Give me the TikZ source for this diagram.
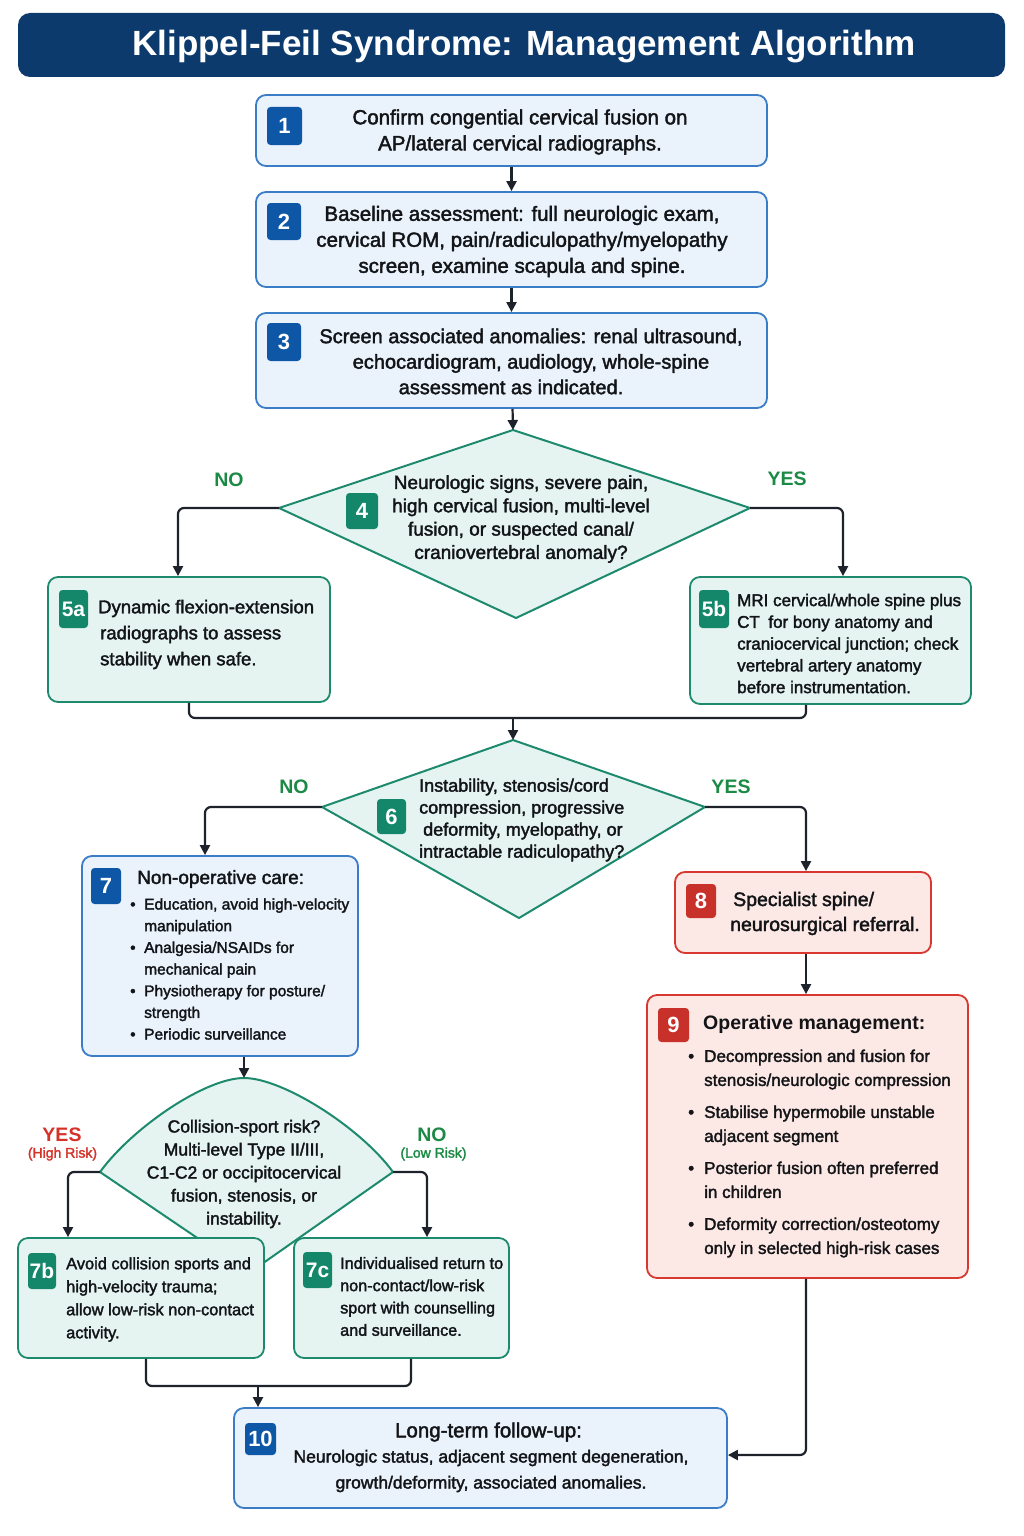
\documentclass[tikz,border=0pt]{standalone}
\usepackage{fontspec}
\setmainfont{Liberation Sans}
\newfontfamily\medf{Liberation Sans}[FakeBold=2]
\usetikzlibrary{arrows.meta}
\definecolor{navy}{HTML}{0C3A6C}
\definecolor{bluefill}{HTML}{EAF2FB}
\definecolor{blueline}{HTML}{3A7CC6}
\definecolor{bluebadge}{HTML}{0E56A6}
\definecolor{tealfill}{HTML}{E5F4F0}
\definecolor{tealline}{HTML}{1D8A6E}
\definecolor{tealbadge}{HTML}{14866A}
\definecolor{redfill}{HTML}{FCE8E5}
\definecolor{redline}{HTML}{D8382F}
\definecolor{redbadge}{HTML}{C8302A}
\definecolor{greenlab}{HTML}{1B8A45}
\definecolor{redlab}{HTML}{D5322A}
\definecolor{arrowc}{HTML}{1E232B}
\definecolor{textc}{HTML}{121417}
\newcommand\myfs[2]{\fontsize{#1}{#2}\selectfont}
\newcommand\bul[1]{\makebox[#1][l]{\textbullet}}
\begin{document}
\begin{tikzpicture}[x=1pt,y=-1pt,
  box/.style={draw, line width=1.8pt, rounded corners=10pt, inner sep=0pt},
  bluebox/.style={box, draw=blueline, fill=bluefill},
  tealbox/.style={box, draw=tealline, fill=tealfill},
  redbox/.style={box, draw=redline, fill=redfill},
  badge/.style={rounded corners=3.5pt, inner sep=0pt, text=white, font=\bfseries\myfs{22}{24}},
  bbadge/.style={badge, fill=bluebadge},
  tbadge/.style={badge, fill=tealbadge},
  rbadge/.style={badge, fill=redbadge},
  diam/.style={draw=tealline, fill=tealfill, line width=2pt, line join=miter},
  txt/.style={inner sep=0pt, text=textc, align=center},
  ltxt/.style={inner sep=0pt, text=textc, align=left, anchor=west},
  glab/.style={inner sep=0pt, text=greenlab, font=\bfseries\myfs{19.5}{22}},
  rlab/.style={inner sep=0pt, text=redlab, font=\bfseries\myfs{19.5}{22}},
  line/.style={draw=arrowc, line width=2.2pt, rounded corners=6pt},
  conn/.style={line, -{Triangle[length=10pt,width=10pt]}},
]
\useasboundingbox (0,0) rectangle (1024,1536);
\fill[white] (0,0) rectangle (1024,1536);

% Title
\node[fill=navy, rounded corners=12pt, minimum width=987, minimum height=64, inner sep=0pt] (title) at (511.5,45) {};
\node[inner sep=0pt, text=white, font=\bfseries\myfs{35}{40}] (titletext) at (524,47) {Klippel-Feil Syndrome: Management Algorithm};

% Box 1
\node[bluebox, minimum width=511, minimum height=71] (b1) at (511.5,130.5) {};
\node[bbadge, minimum width=35, minimum height=38] (bd1) at (284.5,126) {1};
\node[txt, font=\medf\myfs{20.5}{26}] (t1) at (520,132) {Confirm congential cervical fusion on\\AP/lateral cervical radiographs.};

% Box 2
\node[bluebox, minimum width=511, minimum height=95] (b2) at (511.5,239.5) {};
\node[bbadge, minimum width=34, minimum height=37] (bd2) at (284,221.5) {2};
\node[txt, font=\medf\myfs{20.5}{26}] (t2) at (522,241.5) {Baseline assessment: full neurologic exam,\\cervical ROM, pain/radiculopathy/myelopathy\\screen, examine scapula and spine.};

% Box 3
\node[bluebox, minimum width=511, minimum height=95] (b3) at (511.5,360.5) {};
\node[bbadge, minimum width=34, minimum height=38] (bd3) at (284,342) {3};
\node[txt, font=\medf\myfs{20}{25.5}] (t3) at (531,361.5) {Screen associated anomalies: renal ultrasound,\\echocardiogram, audiology, whole-spine\hspace*{46pt}\\assessment as indicated.\hspace*{40pt}};

\draw[conn] (b1) -- (b2);
\draw[conn] (b2) -- (b3);

% Diamond 4
\coordinate (d4t) at (513,430);
\coordinate (d4r) at (750,508);
\coordinate (d4b) at (516,618);
\coordinate (d4l) at (279,508);
\draw[diam] (d4t) -- (d4r) -- (d4b) -- (d4l) -- cycle;
\node[tbadge, minimum width=32, minimum height=36] (bd4) at (362,511) {4};
\node[txt, font=\medf\myfs{19}{23.3}] (t4) at (521,519) {Neurologic signs, severe pain,\\high cervical fusion, multi-level\\fusion, or suspected canal/\\craniovertebral anomaly?};
\draw[conn] (b3) -- (d4t);
\node[glab] (no4) at (229,480) {NO};
\node[glab] (yes4) at (787,479) {YES};

% Box 5a
\node[tealbox, minimum width=282, minimum height=125] (b5a) at (189,639.5) {};
\node[tbadge, minimum width=29, minimum height=38, font=\bfseries\myfs{21}{24}] (bd5a) at (73.5,609) {5a};
\node[ltxt, font=\medf\myfs{18.5}{26}] (t5a) at (98,634.5) {Dynamic flexion-extension\\\hspace*{2pt}radiographs to assess\\\hspace*{2pt}stability when safe.};

% Box 5b
\node[tealbox, minimum width=281, minimum height=127] (b5b) at (830.5,640.5) {};
\node[tbadge, minimum width=30, minimum height=38, font=\bfseries\myfs{21}{24}] (bd5b) at (714,609) {5b};
\node[ltxt, font=\medf\myfs{17}{21.75}] (t5b) at (737,643.5) {MRI cervical/whole spine plus\\CT\enspace for bony anatomy and\\craniocervical junction; check\\vertebral artery anatomy\\before instrumentation.};

\draw[conn] (d4l) -| ([xshift=-11]b5a.north);
\draw[conn] (d4r) -| ([xshift=12.5]b5b.north);

% Merge to diamond 6
\coordinate (m1) at (513,718);
\draw[line] (b5a.south) |- (m1) -| ([xshift=-24.5]b5b.south);

% Diamond 6
\coordinate (d6t) at (513,740);
\coordinate (d6r) at (705,807);
\coordinate (d6b) at (519,918);
\coordinate (d6l) at (322,807);
\draw[diam] (d6t) -- (d6r) -- (d6b) -- (d6l) -- cycle;
\draw[conn] (m1) -- (d6t);
\node[tbadge, minimum width=29, minimum height=35] (bd6) at (391.5,816.5) {6};
\node[ltxt, font=\medf\myfs{18}{22}] (t6) at (419,820) {Instability, stenosis/cord\\compression, progressive\\\hspace*{4pt}deformity, myelopathy, or\\intractable radiculopathy?};
\node[glab] (no6) at (294,787) {NO};
\node[glab] (yes6) at (731,787) {YES};

% Box 7
\node[bluebox, minimum width=276, minimum height=200] (b7) at (220,956) {};
\node[bbadge, minimum width=30, minimum height=36] (bd7) at (106,886) {7};
\node[ltxt, font=\medf\myfs{19}{22}] (h7) at (137,879) {Non-operative care:};
\node[ltxt, font=\medf\myfs{15.5}{21.67}] (t7) at (130,969) {\bul{14pt}Education, avoid high-velocity\\\hspace*{14pt}manipulation\\\bul{14pt}Analgesia/NSAIDs for\\\hspace*{14pt}mechanical pain\\\bul{14pt}Physiotherapy for posture/\\\hspace*{14pt}strength\\\bul{14pt}Periodic surveillance};

% Box 8
\node[redbox, minimum width=256, minimum height=81] (b8) at (803,912.5) {};
\node[rbadge, minimum width=30, minimum height=34] (bd8) at (701,901) {8};
\node[ltxt, font=\medf\myfs{19.5}{25}] (t8) at (730,913.5) {\hspace*{3pt}Specialist spine/\\neurosurgical referral.};

\draw[conn] (d6l) -| ([xshift=-15]b7.north);
\draw[conn] (d6r) -| ([xshift=3]b8.north);

% Box 9
\node[redbox, minimum width=321, minimum height=283] (b9) at (807.5,1136.5) {};
\node[rbadge, minimum width=31, minimum height=34] (bd9) at (673.5,1025) {9};
\node[ltxt, font=\bfseries\myfs{19.5}{22}] (h9) at (703,1024) {Operative management:};
\node[ltxt, font=\medf\myfs{17}{24}] (t9) at (688,1153.5) {\bul{16pt}Decompression and fusion for\\\hspace*{16pt}stenosis/neurologic compression\\[8pt]\bul{16pt}Stabilise hypermobile unstable\\\hspace*{16pt}adjacent segment\\[8pt]\bul{16pt}Posterior fusion often preferred\\\hspace*{16pt}in children\\[8pt]\bul{16pt}Deformity correction/osteotomy\\\hspace*{16pt}only in selected high-risk cases};
\draw[conn] ([xshift=3]b8.south) -- ([xshift=3]b8.south |- b9.north);

% Diamond 7a (convex upper edges)
\coordinate (d7t) at (244,1078);
\coordinate (d7r) at (393,1172);
\coordinate (d7b) at (249,1273);
\coordinate (d7l) at (100,1172);
\draw[diam] (d7l) .. controls (132,1128) and (205,1078) .. (d7t)
  .. controls (283,1078) and (361,1128) .. (d7r) -- (d7b) -- cycle;
\draw[conn] ([xshift=24]b7.south) -- (d7t);
\node[txt, font=\medf\myfs{17.5}{23}] (t7a) at (244,1174) {Collision-sport risk?\\Multi-level Type II/III,\\C1-C2 or occipitocervical\\fusion, stenosis, or\\instability.};
\node[rlab] (yes7) at (62,1135) {YES};
\node[inner sep=0pt, text=redlab, font=\medf\myfs{14}{16}] (hr7) at (62.5,1154) {(High Risk)};
\node[glab] (no7) at (432,1135) {NO};
\node[inner sep=0pt, text=greenlab, font=\medf\myfs{14}{16}] (lr7) at (433.5,1154) {(Low Risk)};

% Box 7b
\node[tealbox, minimum width=246, minimum height=120] (b7b) at (141,1298) {};
\node[tbadge, minimum width=28, minimum height=36, font=\bfseries\myfs{21}{24}] (bd7b) at (42,1271) {7b};
\node[ltxt, font=\medf\myfs{16.4}{23}] (t7b) at (66,1299.5) {Avoid collision sports and\\high-velocity trauma;\\allow low-risk non-contact\\activity.};

% Box 7c
\node[tealbox, minimum width=215, minimum height=120] (b7c) at (401.5,1298) {};
\node[tbadge, minimum width=29, minimum height=36, font=\bfseries\myfs{21}{24}] (bd7c) at (317.5,1270) {7c};
\node[ltxt, font=\medf\myfs{16.2}{22.3}] (t7c) at (340,1296.5) {Individualised return to\\non-contact/low-risk\\sport with counselling\\and surveillance.};

\draw[conn] (d7l) -| ([xshift=-73]b7b.north);
\draw[conn] (d7r) -| ([xshift=25.5]b7c.north);

% Box 10
\node[bluebox, minimum width=493, minimum height=100] (b10) at (480.5,1458) {};
\node[bbadge, minimum width=31, minimum height=32] (bd10) at (260.5,1439) {10};
\node[txt, font=\medf\myfs{20.5}{24}] (h10) at (488.5,1432) {Long-term follow-up:};
\node[txt, font=\medf\myfs{17.5}{26}] (t10) at (491,1471) {Neurologic status, adjacent segment degeneration,\\growth/deformity, associated anomalies.};

% Merge to box 10
\coordinate (m2) at (258,1386);
\draw[line] ([xshift=5]b7b.south) |- (m2) -| ([xshift=9.5]b7c.south);
\draw[conn] (m2) -- (m2 |- b10.north);
\draw[conn] ([xshift=-1.5]b9.south) |- ([yshift=3]b10.east);
\end{tikzpicture}
\end{document}
